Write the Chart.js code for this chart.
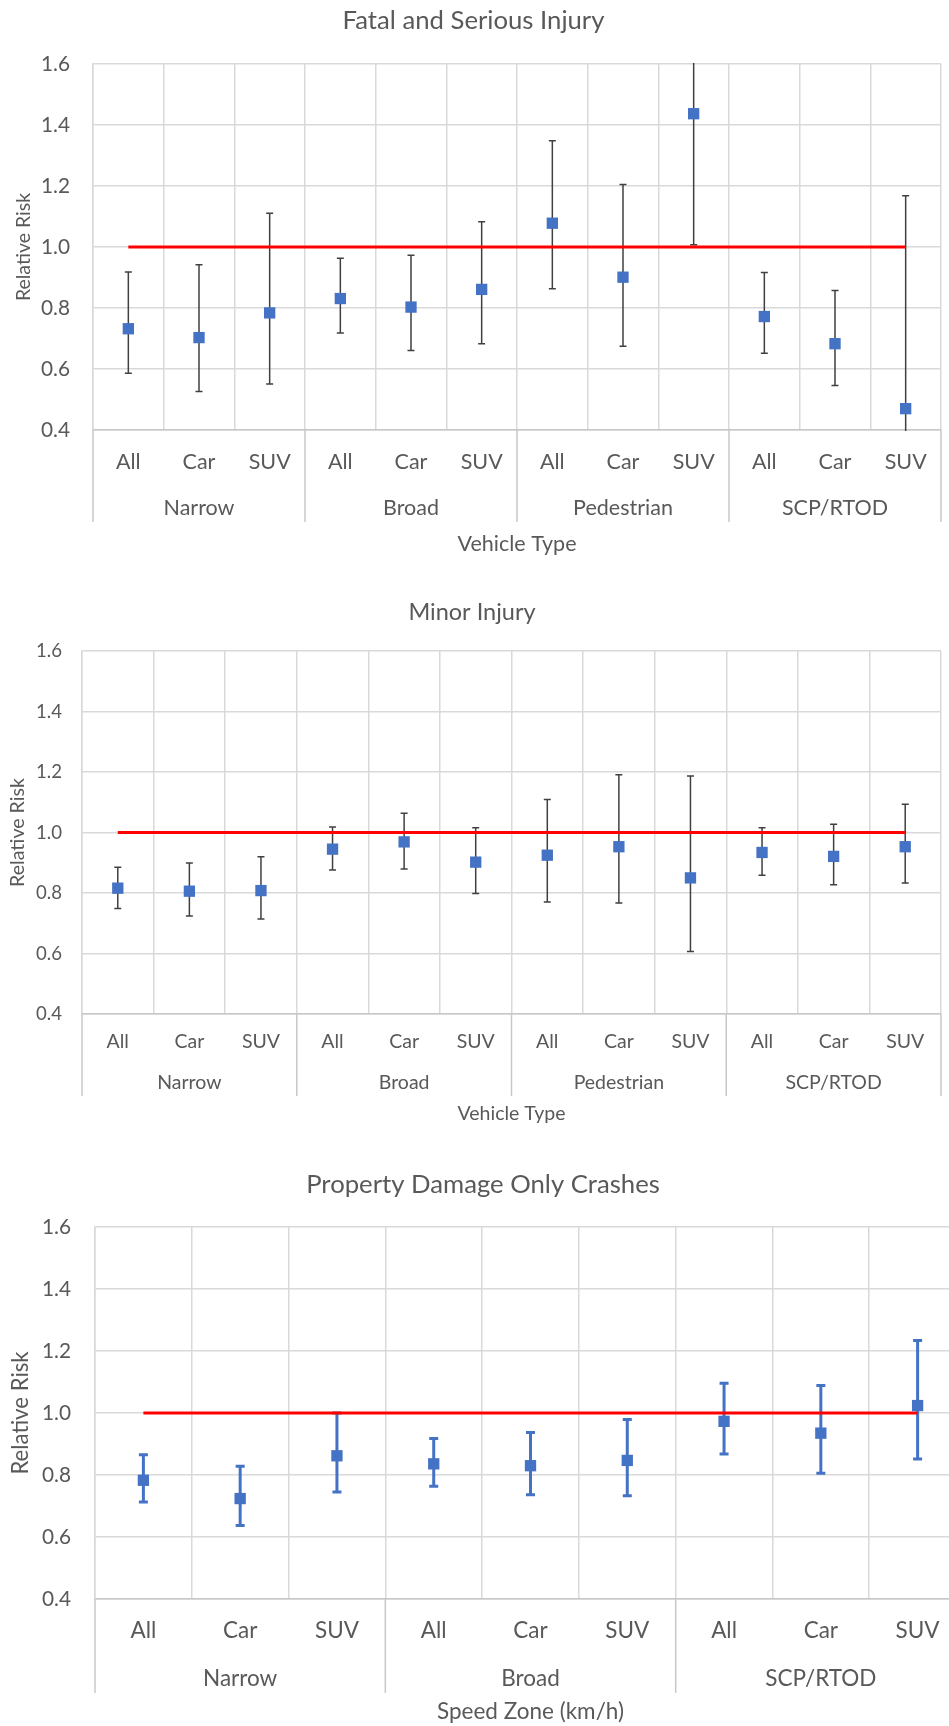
<!DOCTYPE html>
<html>
<head>
<meta charset="utf-8">
<script src="https://cdn.jsdelivr.net/npm/chart.js@4.4.1/dist/chart.umd.min.js"></script>
<style>
  html, body { margin: 0; padding: 0; background: #fff; overflow: hidden; }
  body { width: 949px; height: 1726px; position: relative; }
  canvas { position: absolute; left: 0; }
</style>
</head>
<body>
<canvas id="c1" width="949" height="560" style="top:0px"></canvas>
<canvas id="c2" width="949" height="570" style="top:560px"></canvas>
<canvas id="c3" width="975" height="576" style="top:1150px"></canvas>
<script>
// sub-categories and groups
const subTypes = ['All', 'Car', 'SUV'];
const groups4 = ['Narrow', 'Broad', 'Pedestrian', 'SCP/RTOD'];
const groups3 = ['Narrow', 'Broad', 'SCP/RTOD'];
const yTicks = [0.4, 0.6, 0.8, 1.0, 1.2, 1.4, 1.6];
const refValue = 1.0;

// Fatal and Serious Injury
const fsiRR   = [0.732, 0.703, 0.784, 0.831, 0.803, 0.861, 1.078, 0.901, 1.437, 0.772, 0.683, 0.470];
const fsiLow  = [0.586, 0.526, 0.551, 0.718, 0.661, 0.683, 0.863, 0.675, 1.007, 0.652, 0.546, 0.190];
const fsiHigh = [0.918, 0.942, 1.111, 0.963, 0.973, 1.083, 1.348, 1.205, 2.040, 0.916, 0.857, 1.168];

// Minor Injury
const minRR   = [0.816, 0.806, 0.808, 0.945, 0.969, 0.902, 0.925, 0.953, 0.850, 0.934, 0.921, 0.953];
const minLow  = [0.749, 0.724, 0.714, 0.876, 0.879, 0.798, 0.770, 0.767, 0.607, 0.859, 0.827, 0.833];
const minHigh = [0.885, 0.899, 0.920, 1.018, 1.064, 1.016, 1.109, 1.191, 1.187, 1.016, 1.027, 1.093];

// Property Damage Only Crashes
const pdoRR   = [0.783, 0.724, 0.862, 0.836, 0.830, 0.847, 0.973, 0.935, 1.024];
const pdoLow  = [0.713, 0.637, 0.745, 0.764, 0.736, 0.733, 0.868, 0.806, 0.852];
const pdoHigh = [0.865, 0.828, 1.000, 0.918, 0.937, 0.979, 1.096, 1.089, 1.234];

Chart.defaults.font.family = 'Lato';
Chart.defaults.color = '#595959';
const textColor = '#595959';

// font size that makes a text as wide as it is in the picture
const mctx = document.createElement('canvas').getContext('2d');
function fitSize(text, width) {
  mctx.font = '100px Lato';
  return Math.round(1000 * width / mctx.measureText(text).width) / 10;
}

// error bars, grouped axis labels, y title
const extrasPlugin = {
  id: 'extras',
  beforeDatasetsDraw(chart, args, o) {
    const { ctx, chartArea: a, scales: { x, y } } = chart;
    ctx.save();
    ctx.beginPath();
    ctx.rect(a.left, a.top - 1, a.width, a.height + 2);
    ctx.clip();
    ctx.strokeStyle = o.barColor;
    ctx.lineWidth = o.barWidth;
    o.low.forEach((lo, i) => {
      const px = x.getPixelForValue(i);
      const pLo = y.getPixelForValue(lo);
      const pHi = y.getPixelForValue(o.high[i]);
      ctx.beginPath();
      ctx.moveTo(px, pLo); ctx.lineTo(px, pHi);
      ctx.moveTo(px - o.cap, pLo); ctx.lineTo(px + o.cap, pLo);
      ctx.moveTo(px - o.cap, pHi); ctx.lineTo(px + o.cap, pHi);
      ctx.stroke();
    });
    ctx.restore();
  },
  afterDraw(chart, args, o) {
    const { ctx, chartArea: a, scales: { x } } = chart;
    const half = (x.getPixelForValue(1) - x.getPixelForValue(0)) / 2;
    ctx.save();
    ctx.strokeStyle = '#c8c8c8';
    ctx.lineWidth = 1.5;
    ctx.fillStyle = textColor;
    ctx.font = o.groupFont + 'px Lato';
    ctx.textAlign = 'center';
    ctx.textBaseline = 'middle';
    const n = subTypes.length;
    o.groups.forEach((g, gi) => {
      const first = gi * n;
      const xl = x.getPixelForValue(first) - half;
      ctx.beginPath();
      ctx.moveTo(xl, a.bottom); ctx.lineTo(xl, o.sepBottom);
      ctx.stroke();
      ctx.fillText(g, x.getPixelForValue(first + 1), o.groupY);
    });
    const xr = x.getPixelForValue(o.groups.length * n - 1) + half;
    ctx.beginPath();
    ctx.moveTo(xr, a.bottom); ctx.lineTo(xr, o.sepBottom);
    ctx.stroke();

    // rotated y axis title
    ctx.font = o.yTitleFont + 'px Lato';
    ctx.translate(o.yTitleX, (a.top + a.bottom) / 2);
    ctx.rotate(-Math.PI / 2);
    ctx.fillText('Relative Risk', 0, 0);
    ctx.restore();
  }
};

function makeChart(id, L) {
  const labels = [];
  L.groups.forEach(() => subTypes.forEach(s => labels.push(s)));
  const titleSize = fitSize(L.title, L.titleW);
  const tickSize = fitSize('1.6', L.tickW);
  const labelSize = fitSize(L.xTitle, L.xTitleW);
  const yTitleSize = fitSize('Relative Risk', L.yTitleW);
  const lh = titleSize * 1.2;
  new Chart(document.getElementById(id), {
    type: 'line',
    data: {
      labels: labels,
      datasets: [
        {
          data: L.rr,
          showLine: false,
          pointStyle: 'rect',
          pointRadius: 8,
          pointBackgroundColor: '#4472C4',
          pointBorderWidth: 0,
          order: 0
        },
        {
          data: labels.map(() => refValue),
          borderColor: '#ff0000',
          borderWidth: 3,
          pointRadius: 0,
          order: 1
        }
      ]
    },
    options: {
      responsive: false,
      animation: false,
      layout: { padding: { left: 0, right: L.padRight, top: 0, bottom: 0 } },
      plugins: {
        legend: { display: false },
        tooltip: { enabled: false },
        title: {
          display: true,
          text: L.title,
          color: textColor,
          font: { size: titleSize, weight: 'normal' },
          padding: { top: L.titleY - lh / 2, bottom: L.plotTop - L.titleY - lh / 2 }
        },
        extras: {
          low: L.low, high: L.high,
          barColor: L.barColor, barWidth: L.barWidth, cap: L.cap,
          groups: L.groups, groupY: L.groupY, sepBottom: L.sepBottom,
          groupFont: labelSize, yTitleFont: yTitleSize, yTitleX: L.yTitleX
        }
      },
      scales: {
        x: {
          offset: true,
          grid: { offset: true, color: '#d9d9d9', lineWidth: 1.5, drawTicks: false },
          border: { color: '#c8c8c8', width: 1.5 },
          ticks: { font: { size: labelSize }, color: textColor, padding: L.catY - L.plotBottom - labelSize * 0.6, maxRotation: 0, autoSkip: false },
          title: {
            display: true, text: L.xTitle, color: textColor,
            font: { size: labelSize },
            padding: { top: 0, bottom: L.height - L.xTitleY - labelSize * 0.6 }
          },
          afterFit(s) { s.height = L.height - L.plotBottom; }
        },
        y: {
          min: 0.4, max: 1.6,
          afterBuildTicks(s) { s.ticks = yTicks.map(v => ({ value: v })); },
          grid: { color: '#d9d9d9', lineWidth: 1.5, drawTicks: false },
          border: { color: '#d9d9d9', width: 1.5 },
          ticks: {
            font: { size: tickSize }, color: textColor,
            padding: L.plotLeft - L.tickRight,
            callback: v => v.toFixed(1)
          },
          afterFit(s) { s.width = L.plotLeft; }
        }
      }
    },
    plugins: [extrasPlugin]
  });
}

makeChart('c1', {
  title: 'Fatal and Serious Injury', xTitle: 'Vehicle Type', groups: groups4,
  rr: fsiRR, low: fsiLow, high: fsiHigh,
  barColor: '#404040', barWidth: 1.5, cap: 3.5,
  height: 560, plotLeft: 93, plotTop: 64, plotBottom: 430, padRight: 2,
  titleY: 21, titleW: 262, catY: 462, groupY: 508, sepBottom: 522, xTitleY: 544,
  tickRight: 70, tickW: 29, xTitleW: 119, yTitleX: 24, yTitleW: 108
});

makeChart('c2', {
  title: 'Minor Injury', xTitle: 'Vehicle Type', groups: groups4,
  rr: minRR, low: minLow, high: minHigh,
  barColor: '#404040', barWidth: 1.5, cap: 3.5,
  height: 570, plotLeft: 82, plotTop: 91, plotBottom: 454, padRight: 5,
  titleY: 52, titleW: 127, catY: 482, groupY: 523, sepBottom: 536, xTitleY: 554,
  tickRight: 62, tickW: 26, xTitleW: 108, yTitleX: 18, yTitleW: 109
});

makeChart('c3', {
  title: 'Property Damage Only Crashes', xTitle: 'Speed Zone (km/h)', groups: groups3,
  rr: pdoRR, low: pdoLow, high: pdoHigh,
  barColor: '#4472C4', barWidth: 3, cap: 4.5,
  height: 576, plotLeft: 95, plotTop: 77, plotBottom: 449, padRight: 9,
  titleY: 35, titleW: 354, catY: 481, groupY: 529, sepBottom: 543, xTitleY: 562,
  tickRight: 71, tickW: 29, xTitleW: 187, yTitleX: 21, yTitleW: 123
});
</script>
</body>
</html>
